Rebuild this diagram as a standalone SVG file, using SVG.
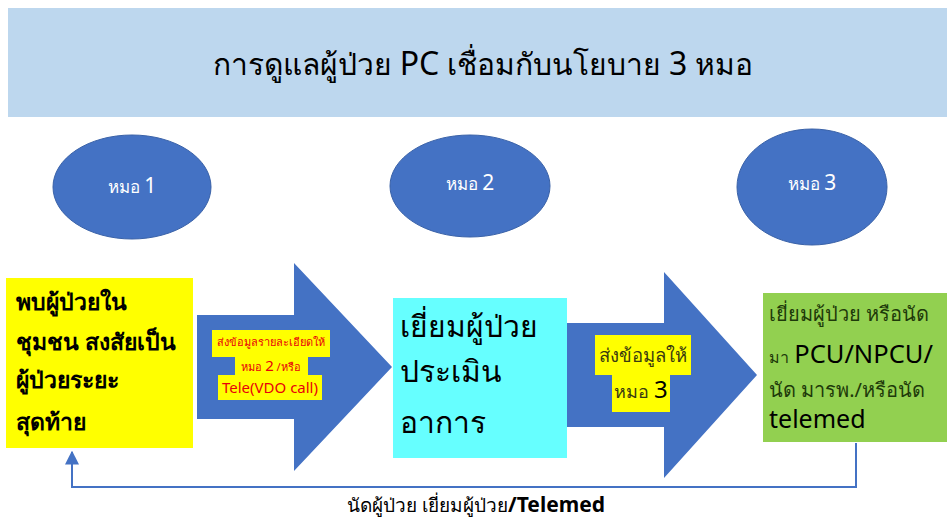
<svg xmlns="http://www.w3.org/2000/svg" width="947" height="522" viewBox="0 0 947 522">
<defs>
<style>
.t{font-family:"Noto Sans","DejaVu Sans",sans-serif;}
.ell{fill:#4472C4;stroke:#3A62A8;stroke-width:1;}
.et{fill:#ffffff;font-size:17px;text-anchor:middle;}
.arrow{fill:#4472C4;}
.hl{fill:#FFFF00;}
.line{fill:none;stroke:#4472C4;stroke-width:2;}
</style>
<marker id="ah" viewBox="0 0 10 10" refX="9" refY="5" markerWidth="7" markerHeight="7" orient="auto">
<path d="M0,0 L10,5 L0,10 z" fill="#4472C4"/>
</marker>
</defs>
<rect width="947" height="522" fill="#ffffff"/>
<g id="title">
<rect x="8" y="8" width="939" height="109" fill="#BDD7EE"/>
<text class="t" x="483" y="75" font-size="30" text-anchor="middle" fill="#000">การดูแลผู้ป่วย <tspan font-size="32">PC</tspan> เชื่อมกับนโยบาย <tspan font-size="32">3</tspan> หมอ</text>
</g>
<g id="mor1">
<ellipse class="ell" cx="132" cy="187" rx="79" ry="52"/>
<text class="t et" x="132" y="193">หมอ <tspan font-size="21">1</tspan></text>
</g>
<g id="mor2">
<ellipse class="ell" cx="470" cy="186" rx="80" ry="51"/>
<text class="t et" x="470" y="190">หมอ <tspan font-size="21">2</tspan></text>
</g>
<g id="mor3">
<ellipse class="ell" cx="812" cy="187" rx="75" ry="58"/>
<text class="t et" x="812" y="190">หมอ <tspan font-size="21">3</tspan></text>
</g>
<g id="connectors">
<polyline class="line" points="856,443 856,487 72,487 72,452" marker-end="url(#ah)"/>
<text class="t" x="476" y="512" font-size="19" text-anchor="middle" fill="#000">นัดผู้ป่วย เยี่ยมผู้ป่วย<tspan font-size="21" font-weight="bold">/Telemed</tspan></text>
</g>
<g id="arrow1">
<polygon class="arrow" points="197,315 294,315 294,263 392,367 294,471 294,419 197,419"/>
<rect class="hl" x="212" y="330" width="118" height="27"/>
<rect class="hl" x="235" y="357" width="73" height="18"/>
<rect class="hl" x="218" y="375" width="104" height="25"/>
<text class="t" x="271" y="346" font-size="11" text-anchor="middle" fill="#E8000B">ส่งข้อมูลรายละเอียดให้</text>
<text class="t" x="271" y="371" font-size="11" text-anchor="middle" fill="#E8000B">หมอ <tspan font-size="15">2</tspan> /หรือ</text>
<text class="t" x="270" y="393" font-size="15" text-anchor="middle" fill="#E8000B">Tele(VDO call)</text>
</g>
<g id="arrow2">
<polygon class="arrow" points="567,323 664,323 664,272 757,375 664,478 664,427 567,427"/>
<rect class="hl" x="595" y="335" width="96" height="40"/>
<rect class="hl" x="612" y="375" width="58" height="37"/>
<text class="t" x="643" y="362" font-size="18.5" text-anchor="middle" fill="#3A3A10">ส่งข้อมูลให้</text>
<text class="t" x="641" y="398" font-size="18" text-anchor="middle" fill="#3A3A10">หมอ <tspan font-size="24" fill="#000">3</tspan></text>
</g>
<g id="box1">
<rect x="6" y="278" width="187" height="170" fill="#FFFF00"/>
<text class="t" font-size="23" font-weight="bold" fill="#000">
<tspan x="16" y="310">พบผู้ป่วยใน</tspan>
<tspan x="16" y="350">ชุมชน สงสัยเป็น</tspan>
<tspan x="16" y="388">ผู้ป่วยระยะ</tspan>
<tspan x="16" y="430">สุดท้าย</tspan>
</text>
</g>
<g id="box2">
<rect x="393" y="298" width="174" height="160" fill="#66FFFF"/>
<text class="t" font-size="30" fill="#000">
<tspan x="400" y="337">เยี่ยมผู้ป่วย</tspan>
<tspan x="400" y="382">ประเมิน</tspan>
<tspan x="400" y="433">อาการ</tspan>
</text>
</g>
<g id="box3">
<rect x="763" y="293" width="184" height="149" fill="#92D050"/>
<text class="t" font-size="20" fill="#1E3A0A">
<tspan x="769" y="321">เยี่ยมผู้ป่วย หรือนัด</tspan>
<tspan x="769" y="363"><tspan font-size="16">มา</tspan> <tspan font-size="25.5" fill="#000">PCU/NPCU/</tspan></tspan>
<tspan x="769" y="397">นัด มารพ./หรือนัด</tspan>
<tspan x="769" y="428" font-size="25" fill="#000">telemed</tspan>
</text>
</g>
</svg>
